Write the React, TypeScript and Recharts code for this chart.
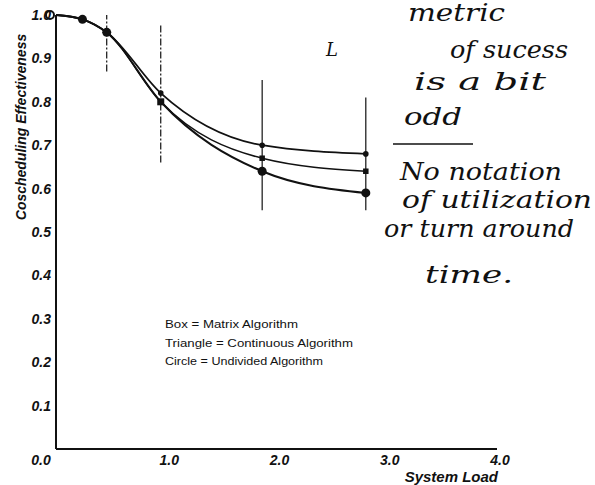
import { LineChart, Line, XAxis, YAxis, ReferenceLine } from "recharts"

// System load on the x axis, one value per measured point
const loads = [0, 0.24, 0.46, 0.95, 1.87, 2.81]
const continuous = [1.0, 0.99, 0.96, 0.82, 0.70, 0.68]
const matrix = [1.0, 0.99, 0.96, 0.80, 0.67, 0.64]
const undivided = [1.0, 0.99, 0.96, 0.80, 0.64, 0.59]

// vertical range bars
const rangeLoads = [0.46, 0.95, 1.87, 2.81]
const rangeLow = [0.87, 0.66, 0.55, 0.55]
const rangeHigh = [1.0, 0.98, 0.85, 0.81]

const xTicks = [0, 1, 2, 3, 4]
const yTicks = [0.1, 0.2, 0.3, 0.4, 0.5, 0.6, 0.7, 0.8, 0.9, 1.0]

const legendLines = [
  "Box = Matrix Algorithm",
  "Triangle = Continuous Algorithm",
  "Circle = Undivided Algorithm",
]

const notes = [
  "metric",
  "of sucess",
  "is a bit",
  "odd",
  "No notation",
  "of utilization",
  "or turn around",
  "time.",
]

const data = loads.map((load, i) => ({
  load,
  continuous: continuous[i],
  matrix: matrix[i],
  undivided: undivided[i],
}))

const FONT = "'Liberation Sans', Arial, sans-serif"
const HAND = "'DejaVu Serif', serif"

const XTick = (props: any) => {
  const { x, y, payload } = props
  const v = payload.value as number
  return (
    <text
      x={x + (v === 0 ? -15 : 3)}
      y={y + 16}
      textAnchor="middle"
      fontFamily={FONT}
      fontSize={14}
      fontWeight="bold"
      fontStyle="italic"
      fill="#111"
    >
      {v.toFixed(1)}
    </text>
  )
}

const YTick = (props: any) => {
  const { x, y, payload } = props
  return (
    <text
      x={x}
      y={y}
      dy="0.36em"
      textAnchor="end"
      fontFamily={FONT}
      fontSize={14}
      fontWeight="bold"
      fontStyle="italic"
      fill="#111"
    >
      {(payload.value as number).toFixed(1)}
    </text>
  )
}

const smallDot = (props: any) => {
  const { cx, cy, index } = props
  if (index < 3) return <g key={`s-${index}`} />
  return <circle key={`s-${index}`} cx={cx} cy={cy} r={2.8} fill="#111" />
}

const boxDot = (props: any) => {
  const { cx, cy, index } = props
  if (index < 3) return <g key={`b-${index}`} />
  const s = index === 3 ? 7 : 5.5
  return <rect key={`b-${index}`} x={cx - s / 2} y={cy - s / 2} width={s} height={s} fill="#111" />
}

const circleDot = (props: any) => {
  const { cx, cy, index } = props
  if (index === 0)
    return <circle key={`c-${index}`} cx={cx - 6} cy={cy} r={4} fill="#fff" stroke="#111" strokeWidth={2} />
  if (index === 3) return <g key={`c-${index}`} />
  return <circle key={`c-${index}`} cx={cx} cy={cy} r={4.5} fill="#111" />
}

const legendY = [328, 347, 365]
const legendW = [133, 188, 158]

const noteX = [408, 450, 414, 404, 400, 402, 384, 425]
const noteY = [21, 58, 90, 125, 180, 208, 237, 283]
const noteW = [97, 118, 132, 58, 162, 190, 190, 88]

export default function App() {
  return (
    <div style={{ position: "absolute", left: 0, top: 0, width: 595, height: 485, background: "#fff" }}>
      <LineChart
        width={595}
        height={485}
        data={data}
        margin={{ top: 15, right: 98, bottom: 0, left: 0 }}
      >
        <XAxis
          dataKey="load"
          type="number"
          domain={[0, 4]}
          ticks={xTicks}
          height={36}
          tickLine={false}
          tickSize={0}
          tickMargin={0}
          tick={<XTick />}
          axisLine={{ stroke: "#111", strokeWidth: 2 }}
        />
        <YAxis
          type="number"
          domain={[0, 1]}
          ticks={yTicks}
          width={56}
          tickLine={false}
          tickSize={0}
          tickMargin={5}
          tick={<YTick />}
          axisLine={{ stroke: "#111", strokeWidth: 2 }}
        />
        {rangeLoads.map((x, i) => (
          <ReferenceLine
            key={`range-${i}`}
            segment={[
              { x, y: rangeLow[i] },
              { x, y: rangeHigh[i] },
            ]}
            stroke="#111"
            strokeWidth={1.2}
            strokeDasharray={i < 2 ? "7 2 2 2" : undefined}
          />
        ))}
        <Line
          dataKey="continuous"
          type="monotone"
          stroke="#111"
          strokeWidth={1.8}
          dot={smallDot}
          activeDot={false}
          isAnimationActive={false}
        />
        <Line
          dataKey="matrix"
          type="monotone"
          stroke="#111"
          strokeWidth={1.5}
          dot={boxDot}
          activeDot={false}
          isAnimationActive={false}
        />
        <Line
          dataKey="undivided"
          type="monotone"
          stroke="#111"
          strokeWidth={2}
          dot={circleDot}
          activeDot={false}
          isAnimationActive={false}
        />
      </LineChart>
      <svg
        width={595}
        height={485}
        style={{ position: "absolute", left: 0, top: 0, pointerEvents: "none" }}
      >
        <text
          transform="translate(26,127) rotate(-90)"
          textAnchor="middle"
          fontFamily={FONT}
          fontSize={14}
          fontWeight="bold"
          fontStyle="italic"
          fill="#111"
        >
          Coscheduling Effectiveness
        </text>
        <text
          x={498}
          y={482}
          textAnchor="end"
          fontFamily={FONT}
          fontSize={15}
          fontWeight="bold"
          fontStyle="italic"
          fill="#111"
        >
          System Load
        </text>
        {legendLines.map((t, i) => (
          <text
            key={t}
            x={165}
            y={legendY[i]}
            fontFamily={FONT}
            fontSize={11}
            fill="#111"
            textLength={legendW[i]}
            lengthAdjust="spacingAndGlyphs"
          >
            {t}
          </text>
        ))}
        {notes.map((t, i) => (
          <text
            key={t}
            x={noteX[i]}
            y={noteY[i]}
            fontFamily={HAND}
            fontStyle="italic"
            fontSize={24}
            fill="#111"
            textLength={noteW[i]}
            lengthAdjust="spacingAndGlyphs"
          >
            {t}
          </text>
        ))}
        <line x1={393} y1={144} x2={473} y2={144} stroke="#111" strokeWidth={1.5} />
        <text x={326} y={56} fontFamily={HAND} fontStyle="italic" fontSize={18} fill="#111">
          L
        </text>
      </svg>
    </div>
  )
}
